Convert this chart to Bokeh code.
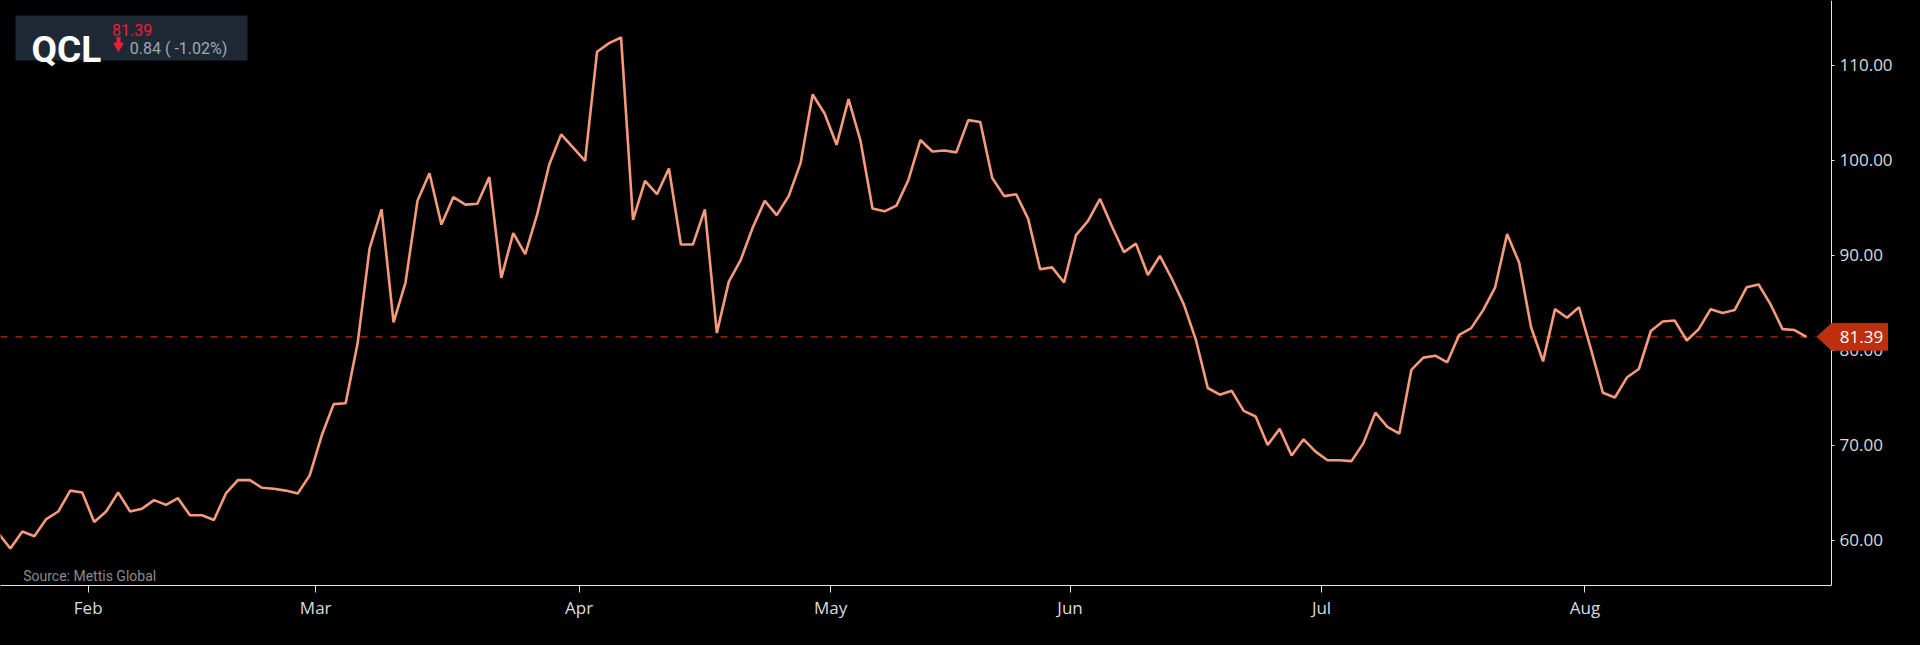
import numpy as np
from jinja2 import Template
from bokeh.plotting import figure
from bokeh.models import (Range1d, FixedTicker, Label, BoxAnnotation,
                          ColumnDataSource, PrintfTickFormatter)
from bokeh.core.properties import value
from bokeh.embed import file_html
from bokeh.resources import INLINE

# ---------------- data ----------------
symbol = "QCL"
last_price = 81.39
change_abs = 0.84
change_pct = -1.02
source_text = "Source: Mettis Global"

month_labels = ["Feb", "Mar", "Apr", "May", "Jun", "Jul", "Aug"]
month_tick_index = [7.5, 26.5, 48.5, 69.5, 89.5, 110.5, 132.5]
price_ticks = [60, 70, 80, 90, 100, 110]

close = [
    60.7, 59.1, 60.9, 60.4, 62.2, 63.0, 65.2, 65.0, 61.9, 63.0,
    65.0, 63.0, 63.3, 64.2, 63.7, 64.4, 62.6, 62.6, 62.1, 64.9,
    66.3, 66.3, 65.5, 65.4, 65.2, 64.9, 66.8, 71.0, 74.3, 74.4,
    80.7, 90.7, 94.8, 82.9, 87.1, 95.7, 98.6, 93.2, 96.1, 95.3,
    95.4, 98.2, 87.6, 92.3, 90.1, 94.3, 99.5, 102.7, 101.3, 99.9,
    111.4, 112.3, 112.9, 93.7, 97.8, 96.4, 99.1, 91.1, 91.1, 94.8,
    81.8, 87.2, 89.5, 92.9, 95.7, 94.2, 96.2, 99.7, 106.9, 104.9,
    101.6, 106.4, 102.0, 94.9, 94.6, 95.2, 97.9, 102.1, 100.9, 101.0,
    100.8, 104.2, 104.0, 98.1, 96.2, 96.4, 93.8, 88.5, 88.7, 87.1,
    92.1, 93.6, 95.9, 93.0, 90.3, 91.2, 87.9, 89.9, 87.5, 84.8,
    81.1, 76.0, 75.3, 75.7, 73.6, 73.0, 70.0, 71.7, 68.9, 70.6,
    69.3, 68.4, 68.4, 68.3, 70.2, 73.4, 71.9, 71.2, 77.9, 79.2,
    79.4, 78.7, 81.6, 82.3, 84.2, 86.6, 92.2, 89.2, 82.4, 78.8,
    84.3, 83.4, 84.5, 80.1, 75.5, 75.0, 77.1, 78.0, 82.0, 83.0,
    83.1, 81.0, 82.2, 84.3, 83.9, 84.2, 86.6, 86.9, 84.8, 82.2,
    82.1, 81.39,
]
bar_index = list(range(len(close)))

# ---------------- layout constants ----------------
W, H = 1920, 645
FRAME_W, FRAME_H = 1920, 585     # frame spans the full width; y axis sits inside it
AXIS_REF_X = 1831                # where the price axis is drawn
PX_PER_BAR = 11.974
PX_PER_UNIT = 9.5
BAR0_REF_X = -2.1                # pixel x of the first bar

X_START = -BAR0_REF_X / PX_PER_BAR
X_END = X_START + FRAME_W / PX_PER_BAR
Y_END = 116.79                   # value at the top edge of the frame
Y_START = Y_END - FRAME_H / PX_PER_UNIT


def rx(px):
    """pixel x -> data x"""
    return X_START + px / PX_PER_BAR


def ry(py):
    """pixel y -> data y"""
    return Y_END - py / PX_PER_UNIT


LINE_COLOR = "#f59a7b"
RED_DARK = "#bd2f0d"
AXIS_COLOR = "#e6e6e6"
LABEL_COLOR = "#dcdcdc"

p = figure(width=W, height=H, output_backend="svg", toolbar_location=None,
           x_range=Range1d(X_START, X_END), y_range=Range1d(Y_START, Y_END),
           y_axis_location="right",
           background_fill_color="black", border_fill_color="black",
           outline_line_color=None,
           min_border_left=0, min_border_top=0,
           min_border_right=0, min_border_bottom=H - FRAME_H)
p.grid.visible = False

# x axis (line stops at the price axis)
xa = p.xaxis[0]
xa.ticker = FixedTicker(ticks=month_tick_index)
xa.major_label_overrides = {t: lab for t, lab in zip(month_tick_index, month_labels)}
xa.bounds = (X_START, rx(AXIS_REF_X))
xa.axis_line_color = AXIS_COLOR
xa.major_tick_line_color = AXIS_COLOR
xa.major_tick_out = 7
xa.major_tick_in = 0
xa.minor_tick_line_color = None
xa.major_label_text_color = LABEL_COLOR
xa.major_label_text_font = "Open Sans"
xa.major_label_text_font_size = "17px"
xa.major_label_standoff = 3

# y axis, pinned at the right edge of the chart area
ya = p.yaxis[0]
ya.fixed_location = rx(AXIS_REF_X)
ya.ticker = FixedTicker(ticks=price_ticks)
ya.formatter = PrintfTickFormatter(format="%.2f")
ya.axis_line_color = AXIS_COLOR
ya.major_tick_line_color = AXIS_COLOR
ya.major_tick_out = 3
ya.major_tick_in = 0
ya.minor_tick_line_color = None
ya.major_label_text_color = LABEL_COLOR
ya.major_label_text_font = "Open Sans"
ya.major_label_text_font_size = "17px"
ya.major_label_standoff = 5

# price dashed line
p.segment(x0=[X_START], x1=[rx(1816)], y0=[last_price], y1=[last_price],
          line_color=RED_DARK, line_dash="7 8", line_width=1.3, level="underlay")

# price line
src = ColumnDataSource(dict(x=bar_index, y=close))
p.line("x", "y", source=src, line_color=LINE_COLOR, line_width=2.6)

# last price marker: arrow-shaped tag over the axis
half_h = 13.4 / PX_PER_UNIT
p.patch([rx(1816.5), rx(1831), rx(1887), rx(1887), rx(1831)],
        [last_price, last_price + half_h, last_price + half_h,
         last_price - half_h, last_price - half_h],
        fill_color=RED_DARK, line_color=RED_DARK, line_join="round",
        level="overlay")
p.text(x=[rx(1839.3)], y=[last_price], text=[f"{last_price:.2f}"],
       text_baseline="middle", text_align="left", text_color="white",
       text_font=value("Open Sans"), text_font_size="17px", level="overlay")

# info box (top left)
p.add_layout(BoxAnnotation(left=rx(15), right=rx(247), top=ry(15), bottom=ry(60),
                           fill_color="#1e2935", fill_alpha=1.0, line_color=None))
p.add_layout(Label(x=rx(31), y=ry(49.3), text=symbol, text_baseline="alphabetic",
                   text_color="white", text_font="Roboto", text_font_style="bold",
                   text_font_size="37px", level="overlay"))
p.add_layout(Label(x=rx(111.5), y=ry(29.3), text=f"{last_price:.2f}",
                   text_baseline="alphabetic", text_color="#ee1c36",
                   text_font="Roboto", text_font_size="16px", level="overlay"))
p.add_layout(Label(x=rx(129.3), y=ry(47.7),
                   text=f"{change_abs:.2f} ( {change_pct:.2f}%)",
                   text_baseline="alphabetic", text_color="#a3a8ae",
                   text_font="Roboto", text_font_size="16px", level="overlay"))

# down arrow icon
p.rect(x=[rx(118)], y=[ry(40)], width=4, height=7, width_units="screen",
       height_units="screen", fill_color="#ee1c36", line_color=None, level="overlay")
p.scatter(x=[rx(118)], y=[ry(45.5)], marker="inverted_triangle", size=11,
          fill_color="#ee1c36", line_color=None, level="overlay")

# source note
p.add_layout(Label(x=rx(22.7), y=ry(575), text=source_text,
                   text_baseline="alphabetic", text_color="#8c8c8c",
                   text_font="Roboto", text_font_size="14px"))

template = Template("""{% extends base %}
{% block preamble %}<style>html, body { background-color: #000000; }</style>{% endblock %}
""")

open("out.html", "w").write(file_html(p, INLINE, title="QCL", template=template))
